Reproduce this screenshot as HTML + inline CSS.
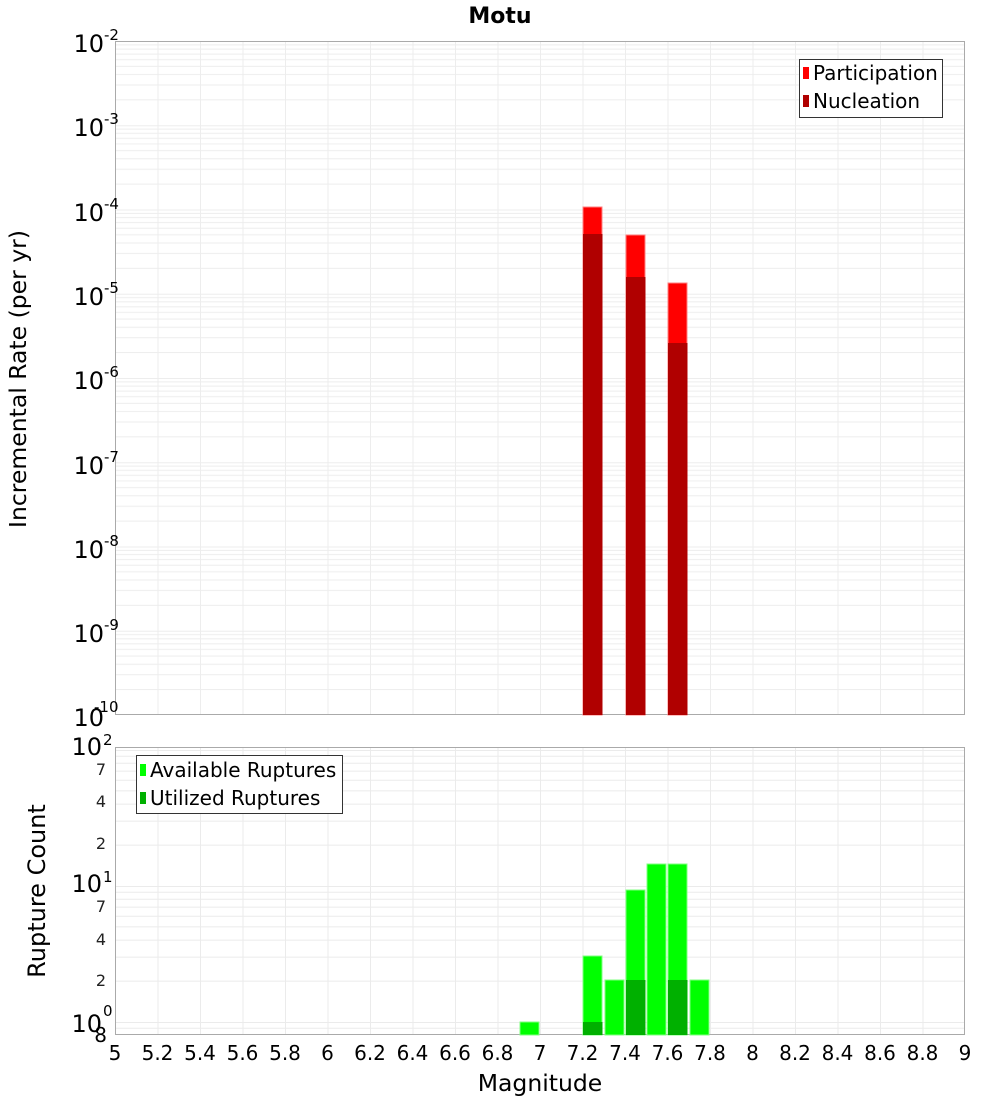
<!DOCTYPE html>
<html><head><style>body{margin:0;background:#fff}svg{display:block;font-family:"DejaVu Sans","Liberation Sans",sans-serif}</style></head>
<body>
<svg width="1000" height="1100" xmlns="http://www.w3.org/2000/svg">
<defs>
<pattern id="gt" patternUnits="userSpaceOnUse" x="115" y="41" width="42.5" height="84.25">
<g stroke="#ededed" stroke-width="1" fill="none">
<line x1="0" y1="0.5" x2="42.5" y2="0.5"/><line x1="0" y1="3.85" x2="42.5" y2="3.85"/><line x1="0" y1="8.15" x2="42.5" y2="8.15"/><line x1="0" y1="13.05" x2="42.5" y2="13.05"/><line x1="0" y1="18.75" x2="42.5" y2="18.75"/><line x1="0" y1="25.35" x2="42.5" y2="25.35"/><line x1="0" y1="33.55" x2="42.5" y2="33.55"/><line x1="0" y1="44.05" x2="42.5" y2="44.05"/><line x1="0" y1="58.85" x2="42.5" y2="58.85"/><line x1="0.5" y1="0" x2="0.5" y2="84.25"/></g></pattern>
<pattern id="gb" patternUnits="userSpaceOnUse" x="115" y="750" width="42.5" height="136">
<g stroke="#ebebeb" stroke-width="1" fill="none">
<line x1="0" y1="0.5" x2="42.5" y2="0.5"/><line x1="0" y1="6.3" x2="42.5" y2="6.3"/><line x1="0" y1="13.2" x2="42.5" y2="13.2"/><line x1="0" y1="21.1" x2="42.5" y2="21.1"/><line x1="0" y1="30.2" x2="42.5" y2="30.2"/><line x1="0" y1="40.9" x2="42.5" y2="40.9"/><line x1="0" y1="54.1" x2="42.5" y2="54.1"/><line x1="0" y1="71.1" x2="42.5" y2="71.1"/><line x1="0" y1="95.1" x2="42.5" y2="95.1"/><line x1="0.5" y1="0" x2="0.5" y2="136"/></g></pattern>
</defs>
<text x="500" y="23" font-size="22" font-weight="bold" text-anchor="middle">Motu</text>
<rect x="115" y="41" width="850" height="674" fill="url(#gt)"/>
<rect x="115.5" y="41.5" width="849" height="673" fill="none" stroke="#aaa"/>
<g stroke="#ff8080" stroke-width="1">
<rect x="583" y="207" width="19" height="508" fill="#ff0000"/>
<rect x="626" y="235" width="19" height="480" fill="#ff0000"/>
<rect x="668" y="283" width="19" height="432" fill="#ff0000"/>
</g>
<rect x="583" y="234" width="19.5" height="481" fill="#b00000"/>
<rect x="626" y="277" width="19.5" height="438" fill="#b00000"/>
<rect x="668" y="343" width="19.5" height="372" fill="#b00000"/>
<rect x="799.5" y="59.5" width="143" height="58" fill="#fff" stroke="#333"/>
<rect x="803" y="67" width="6" height="12" fill="#ff0000"/>
<rect x="803" y="95" width="6" height="12" fill="#b00000"/>
<text x="813" y="80" font-size="20">Participation</text>
<text x="813" y="108" font-size="20">Nucleation</text>
<g font-size="24" text-anchor="end">
<text x="104" y="52">10</text><text x="104" y="136">10</text><text x="104" y="221">10</text><text x="104" y="305">10</text><text x="104" y="389">10</text><text x="104" y="474">10</text><text x="104" y="558">10</text><text x="104" y="642">10</text><text x="104" y="726">10</text>
</g>
<g font-size="15">
<text x="104" y="40">-2</text><text x="104" y="124">-3</text><text x="104" y="209">-4</text><text x="104" y="293">-5</text><text x="104" y="377">-6</text><text x="104" y="462">-7</text><text x="104" y="546">-8</text><text x="104" y="630">-9</text><text x="94" y="712">-10</text>
</g>
<text transform="translate(26,379) rotate(-90)" font-size="23.5" text-anchor="middle">Incremental Rate (per yr)</text>
<rect x="115" y="747" width="850" height="288" fill="url(#gb)"/>
<rect x="115.5" y="747.5" width="849" height="287" fill="none" stroke="#aaa"/>
<g fill="#00ff00" stroke="#80ff80" stroke-width="1">
<rect x="520" y="1022" width="19" height="13"/>
<rect x="583" y="956" width="19" height="79"/>
<rect x="605" y="980" width="19" height="55"/>
<rect x="626" y="890" width="19" height="145"/>
<rect x="647" y="864" width="19" height="171"/>
<rect x="668" y="864" width="19" height="171"/>
<rect x="690" y="980" width="19" height="55"/>
</g>
<g fill="#00b000">
<rect x="583" y="1022" width="19.5" height="13"/>
<rect x="626" y="980" width="19.5" height="55"/>
<rect x="668" y="980" width="19.5" height="55"/>
</g>
<rect x="136.5" y="755.5" width="206" height="58" fill="#fff" stroke="#333"/>
<rect x="140" y="764" width="6" height="12" fill="#00ff00"/>
<rect x="140" y="792" width="6" height="12" fill="#00b000"/>
<text x="150" y="777" font-size="20">Available Ruptures</text>
<text x="150" y="805" font-size="20">Utilized Ruptures</text>
<g font-size="24" text-anchor="end">
<text x="102" y="755">10</text><text x="102" y="892">10</text><text x="102" y="1032">10</text>
</g>
<g font-size="15">
<text x="103" y="745">2</text><text x="103" y="882">1</text><text x="103" y="1016">0</text>
</g>
<g font-size="16" text-anchor="end" fill="#222">
<text x="106" y="775">7</text><text x="106" y="807">4</text><text x="106" y="849">2</text>
<text x="106" y="912">7</text><text x="106" y="945">4</text><text x="106" y="986">2</text>
</g>
<text x="107" y="1042" font-size="20" text-anchor="end">8</text>
<text transform="translate(45,891) rotate(-90)" font-size="24" text-anchor="middle">Rupture Count</text>
<g font-size="20" text-anchor="middle">
<text x="115" y="1060">5</text><text x="157.5" y="1060">5.2</text><text x="200" y="1060">5.4</text><text x="242.5" y="1060">5.6</text><text x="285" y="1060">5.8</text><text x="327.5" y="1060">6</text><text x="370" y="1060">6.2</text><text x="412.5" y="1060">6.4</text><text x="455" y="1060">6.6</text><text x="497.5" y="1060">6.8</text><text x="540" y="1060">7</text><text x="582.5" y="1060">7.2</text><text x="625" y="1060">7.4</text><text x="667.5" y="1060">7.6</text><text x="710" y="1060">7.8</text><text x="752.5" y="1060">8</text><text x="795" y="1060">8.2</text><text x="837.5" y="1060">8.4</text><text x="880" y="1060">8.6</text><text x="922.5" y="1060">8.8</text><text x="965" y="1060">9</text>
</g>
<text x="540" y="1091" font-size="23.5" text-anchor="middle">Magnitude</text>
</svg>
</body></html>
